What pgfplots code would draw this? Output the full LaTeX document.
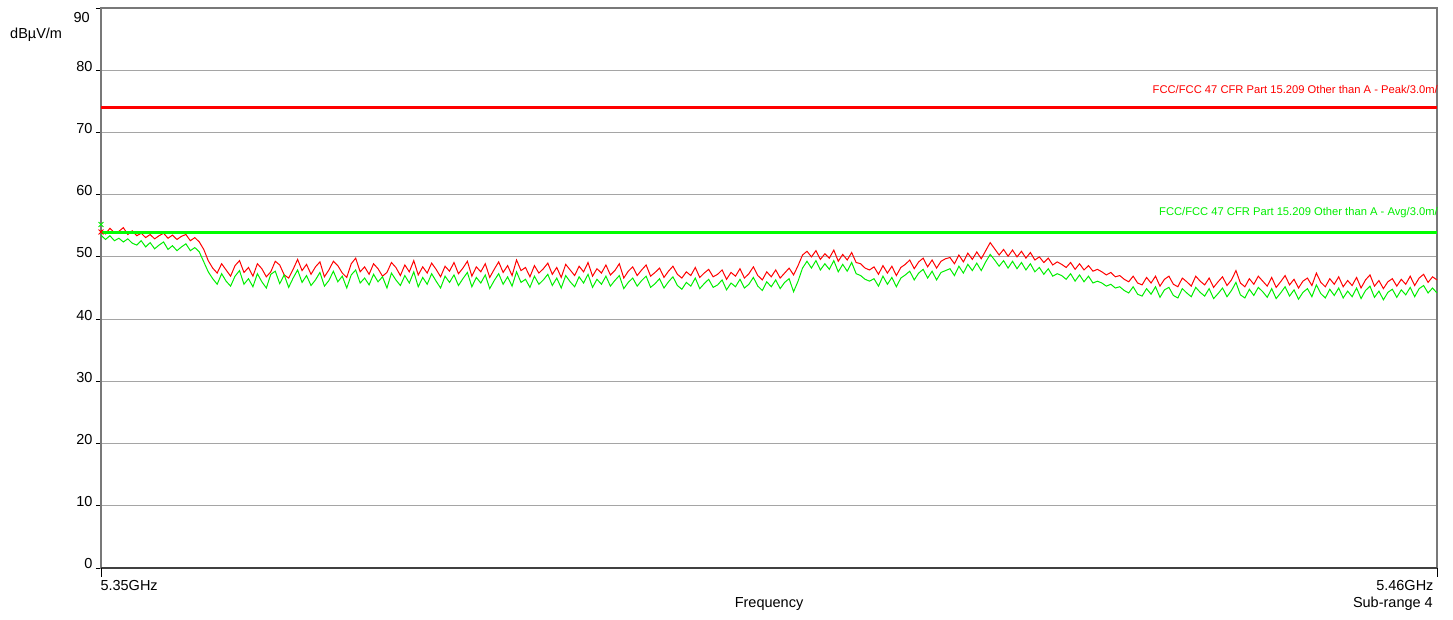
\documentclass[border=0pt]{standalone}
\usepackage{fontspec}
\setmainfont{Liberation Sans}
\usepackage{pgfplots}
\usepackage{pgfplotstable}
\pgfplotsset{compat=1.18}
\definecolor{pkred}{RGB}{255,0,0}
\definecolor{avgreen}{RGB}{0,238,0}
\definecolor{limgreen}{RGB}{0,255,0}
\definecolor{gridgray}{RGB}{165,165,165}
\definecolor{boxgray}{RGB}{120,120,120}
\newcommand{\fs}{\fontsize{14.5}{17}\selectfont}
\newcommand{\fl}{\fontsize{11.2}{13}\selectfont}

% Peak trace (dBuV/m), 300 points across 5.35-5.46 GHz
\pgfplotstableread[header=false,row sep=\\]{
54.3\\53.7\\54.6\\53.9\\54.1\\54.7\\53.6\\54.2\\53.4\\53.8\\
53.1\\53.6\\52.9\\53.4\\53.8\\53.0\\53.5\\52.8\\53.3\\53.6\\
52.6\\53.1\\52.4\\51.2\\49.4\\48.2\\47.4\\48.9\\47.9\\46.9\\
48.6\\49.4\\47.5\\48.3\\46.9\\48.9\\48.1\\46.8\\47.6\\49.3\\
48.7\\47.1\\46.6\\48.0\\49.6\\47.8\\48.8\\47.2\\48.4\\49.2\\
46.8\\47.9\\49.3\\48.6\\47.4\\46.7\\48.9\\49.8\\47.6\\48.4\\
47.2\\48.9\\48.1\\46.9\\47.5\\49.1\\48.3\\47.0\\48.7\\47.6\\
49.4\\47.1\\48.4\\47.4\\49.0\\48.0\\46.8\\48.5\\47.7\\49.1\\
47.3\\48.2\\49.3\\46.9\\48.4\\47.6\\48.9\\46.7\\48.0\\49.2\\
47.5\\48.6\\47.0\\49.5\\47.8\\48.3\\46.8\\48.6\\47.4\\48.1\\
49.0\\47.2\\48.3\\46.7\\48.8\\47.9\\47.0\\48.5\\47.6\\49.1\\
46.9\\48.1\\47.4\\48.7\\47.1\\47.8\\48.9\\46.6\\47.7\\48.4\\
47.0\\47.9\\48.7\\46.9\\47.5\\48.2\\46.7\\47.7\\48.5\\47.2\\
46.6\\47.6\\47.0\\48.3\\46.7\\47.4\\48.0\\46.8\\47.2\\47.9\\
46.4\\47.5\\46.9\\48.1\\46.6\\47.3\\48.4\\47.0\\46.3\\47.6\\
46.8\\47.9\\46.6\\47.4\\48.2\\47.1\\48.6\\50.3\\50.9\\50.0\\
51.0\\49.6\\50.5\\49.8\\51.1\\49.3\\50.4\\49.5\\50.7\\49.1\\
48.9\\48.2\\47.9\\48.4\\47.2\\48.6\\47.4\\48.5\\47.0\\48.3\\
48.8\\49.5\\48.1\\49.2\\49.8\\48.4\\49.5\\48.2\\49.3\\49.7\\
49.9\\48.9\\50.3\\49.2\\50.6\\49.6\\50.8\\49.7\\51.0\\52.3\\
51.3\\50.3\\51.2\\50.1\\51.1\\50.0\\50.9\\49.8\\50.7\\49.5\\
50.0\\49.1\\49.8\\48.7\\49.2\\48.8\\48.3\\49.1\\48.0\\48.9\\
47.9\\48.6\\47.7\\48.0\\47.6\\47.1\\47.5\\46.8\\47.0\\46.4\\
46.0\\46.9\\45.8\\45.5\\46.7\\45.8\\46.9\\45.3\\46.4\\46.9\\
45.6\\45.2\\46.6\\46.0\\45.3\\46.9\\46.1\\45.5\\46.6\\45.1\\
46.0\\46.8\\45.4\\46.3\\47.8\\45.8\\45.2\\46.5\\45.6\\46.9\\
46.1\\45.3\\46.7\\45.1\\46.0\\47.0\\45.5\\46.4\\45.0\\46.1\\
46.6\\45.4\\47.4\\45.9\\45.2\\46.5\\45.6\\46.8\\45.2\\46.2\\
45.4\\46.7\\45.0\\46.3\\47.1\\45.3\\46.2\\44.9\\46.0\\46.5\\
45.3\\46.4\\45.6\\46.9\\45.4\\46.6\\47.2\\45.9\\46.8\\46.3\\
}\peak

% Average trace (dBuV/m)
\pgfplotstableread[header=false,row sep=\\]{
53.5\\52.8\\53.4\\52.6\\53.0\\52.4\\52.9\\52.2\\51.9\\52.6\\
51.6\\52.3\\51.3\\51.9\\52.4\\51.2\\51.8\\51.0\\51.6\\52.1\\
51.0\\51.5\\50.8\\49.2\\47.6\\46.5\\45.6\\47.3\\46.1\\45.3\\
46.9\\47.8\\45.6\\46.5\\45.2\\47.3\\46.0\\45.0\\47.2\\47.7\\
45.7\\47.1\\45.1\\46.6\\47.9\\45.9\\47.0\\45.4\\46.3\\47.5\\
45.3\\46.2\\47.7\\46.0\\46.9\\45.0\\47.1\\47.9\\45.8\\46.6\\
45.5\\47.2\\46.0\\46.8\\45.0\\47.4\\46.3\\45.4\\47.0\\45.8\\
47.6\\45.2\\46.7\\45.6\\47.3\\46.1\\45.0\\46.9\\45.9\\47.1\\
45.4\\46.5\\47.5\\45.2\\46.7\\45.8\\47.1\\44.9\\46.2\\47.3\\
45.6\\46.8\\45.3\\47.6\\45.9\\46.4\\45.1\\46.9\\45.6\\46.3\\
47.2\\45.4\\46.6\\45.0\\47.0\\46.0\\45.2\\46.8\\45.8\\47.2\\
45.1\\46.4\\45.6\\46.9\\45.3\\46.2\\47.0\\44.9\\45.9\\46.6\\
45.3\\46.2\\46.9\\45.1\\45.7\\46.5\\45.0\\46.0\\46.8\\45.4\\
44.8\\45.9\\45.3\\46.6\\44.9\\45.7\\46.4\\45.1\\45.5\\46.3\\
44.7\\45.8\\45.2\\46.4\\45.0\\45.6\\46.7\\45.3\\44.6\\46.0\\
45.2\\46.3\\44.9\\45.9\\46.5\\44.4\\46.1\\48.2\\49.3\\48.2\\
49.4\\47.9\\48.9\\48.0\\49.4\\47.6\\48.8\\47.7\\49.1\\47.3\\
47.0\\46.4\\46.1\\46.5\\45.3\\46.9\\45.6\\46.7\\45.2\\46.6\\
47.1\\47.7\\46.3\\47.4\\48.0\\46.6\\47.7\\46.3\\47.5\\47.8\\
48.1\\47.0\\48.5\\47.4\\48.8\\47.8\\49.0\\47.8\\49.2\\50.4\\
49.5\\48.5\\49.4\\48.2\\49.3\\48.1\\49.1\\47.9\\48.9\\47.6\\
48.3\\47.2\\48.1\\46.9\\47.3\\47.0\\46.4\\47.3\\46.1\\47.1\\
46.0\\46.9\\45.8\\46.1\\45.8\\45.3\\45.6\\45.0\\45.2\\44.6\\
44.2\\45.2\\44.0\\43.7\\44.9\\44.0\\45.2\\43.5\\44.7\\45.1\\
43.8\\43.4\\44.9\\44.2\\43.6\\45.1\\44.3\\43.7\\44.9\\43.3\\
44.1\\45.0\\43.6\\44.6\\45.9\\43.9\\43.4\\44.8\\43.8\\45.1\\
44.4\\43.5\\44.9\\43.3\\44.2\\45.2\\43.7\\44.7\\43.2\\44.3\\
44.9\\43.6\\45.5\\44.1\\43.4\\44.8\\43.8\\45.0\\43.4\\44.5\\
43.6\\45.0\\43.3\\44.6\\45.3\\43.5\\44.5\\43.1\\44.3\\44.8\\
43.5\\44.7\\43.9\\45.1\\43.6\\44.9\\45.4\\44.2\\45.0\\44.2\\
}\avg

\begin{document}
\begin{tikzpicture}
\begin{axis}[
  scale only axis,
  width=1336pt, height=560pt,
  xmin=0, xmax=299,
  ymin=0, ymax=90,
  ytick={0,10,...,90},
  yticklabels={0,10,20,30,40,50,60,70,80,},
  ymajorgrids,
  grid style={gridgray, line width=0.9pt},
  axis line style={boxgray, line width=1.6pt},
  tick align=outside,
  tick pos=left,
  major tick length=5pt,
  tick style={black, line width=0.9pt},
  yticklabel style={font=\fs, anchor=east, yshift=4pt},
  xtick={0},
  xticklabels={5.35GHz},
  xticklabel style={font=\fs, anchor=north west, xshift=-4pt, yshift=-4pt},
  extra x ticks={299},
  extra x tick labels={5.46GHz},
  extra x tick style={grid=none, xticklabel style={anchor=north east, xshift=4pt}},
  /pgf/number format/assume math mode=true,
  xlabel={Frequency},
  xlabel style={font=\fs, at={(axis description cs:0.5,0)}, anchor=center, yshift=-36pt},
  clip=false,
]
\addplot[pkred, line width=1pt] table[x expr=\coordindex, y index=0]{\peak};
\addplot[avgreen, line width=1pt] table[x expr=\coordindex, y index=0]{\avg};
\addplot[pkred, only marks, mark=x, mark size=3.5pt, line width=1pt] coordinates {(0,54.0)};
\addplot[avgreen, only marks, mark=x, mark size=3.5pt, line width=1pt] coordinates {(0,55.2)};
\addplot[pkred, line width=2.8pt] coordinates {(0,74) (299,74)};
\addplot[limgreen, line width=3pt] coordinates {(0,54) (299,54)};
\draw[black!75, line width=1.4pt] (rel axis cs:0,0) -- (rel axis cs:1,0);
\draw[black, line width=0.9pt] (rel axis cs:0,0) -- ++(0,-9pt);
\draw[black, line width=0.9pt] (rel axis cs:1,0) -- ++(0,-9pt);
\node[pkred, font=\fl, anchor=south east, inner sep=0pt] at (axis cs:299,74) [yshift=14pt, xshift=1pt] {FCC/FCC 47 CFR Part 15.209 Other than A - Peak/3.0m/};
\node[avgreen, font=\fl, anchor=south east, inner sep=0pt] at (axis cs:299,54) [yshift=14pt, xshift=1pt] {FCC/FCC 47 CFR Part 15.209 Other than A - Avg/3.0m/};
\node[font=\fs, anchor=east, inner sep=0pt] at (rel axis cs:0,1) [xshift=-11pt, yshift=-9.5pt] {90};
\node[font=\fs, anchor=west, inner sep=0pt] at (rel axis cs:0,1) [xshift=-91pt, yshift=-27pt] {dBµV/m};
\node[font=\fs, anchor=east, inner sep=0pt] at (rel axis cs:1,0) [xshift=-4pt, yshift=-36pt] {Sub-range 4};
\end{axis}
\pgfresetboundingbox
\path[use as bounding box] (-101pt,-51pt) rectangle (1352pt,568pt);
\end{tikzpicture}
\end{document}
